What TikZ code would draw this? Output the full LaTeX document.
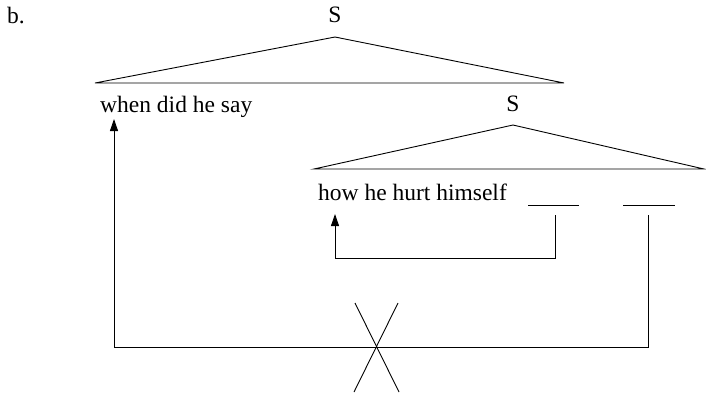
\documentclass[tikz,border=0pt]{standalone}
\usepackage{fontspec}
\setmainfont{Liberation Serif}
\usetikzlibrary{arrows.meta}
\begin{document}
\begin{tikzpicture}[x=1pt,y=-1pt,
  lbl/.style={inner sep=0pt,anchor=base west,font=\fontsize{23.5}{27}\selectfont},
  cat/.style={inner sep=0pt,anchor=base,font=\fontsize{23.5}{27}\selectfont},
  ln/.style={line width=0.9pt,line join=miter},
  mv/.style={ln,-{Triangle[length=12pt,width=8pt]}}]
\useasboundingbox (0,0) rectangle (706,392);
\node[lbl] (b) at (7,23) {b.};
\node[cat] (S1) at (335,22) {S};
\node[cat] (S2) at (513,111) {S};
\node[lbl] (w) at (100,112) {when did he say};
\node[lbl] (h) at (318,200) {how he hurt himself};
% triangles
\coordinate (t1a) at (335,37);
\coordinate (t1l) at (95,83);
\coordinate (t1r) at (564,83);
\draw[ln] (t1l) -- (t1a) -- (t1r) -- cycle;
\coordinate (t2a) at (513,125);
\coordinate (t2l) at (314,169);
\coordinate (t2r) at (704,169);
\draw[ln] (t2l) -- (t2a) -- (t2r) -- cycle;
% blanks
\coordinate (g1l) at (528,205); \coordinate (g1r) at (579,205);
\coordinate (g2l) at (623,205); \coordinate (g2r) at (675,205);
\draw[ln] (g1l) -- (g1r);
\draw[ln] (g2l) -- (g2r);
% inner movement
\coordinate (i1) at (555,215);
\coordinate (i2) at (335,214);
\draw[mv] (i1) |- (335,258) -- (i2);
% outer movement
\coordinate (o1) at (648,215);
\coordinate (o2) at (114,119);
\draw[mv] (o1) |- (114,347) -- (o2);
% cross
\coordinate (xa) at (355,303); \coordinate (xb) at (399,392);
\coordinate (xc) at (398,303); \coordinate (xd) at (354,392);
\draw[ln] (xa) -- (xb);
\draw[ln] (xc) -- (xd);
\end{tikzpicture}
\end{document}
